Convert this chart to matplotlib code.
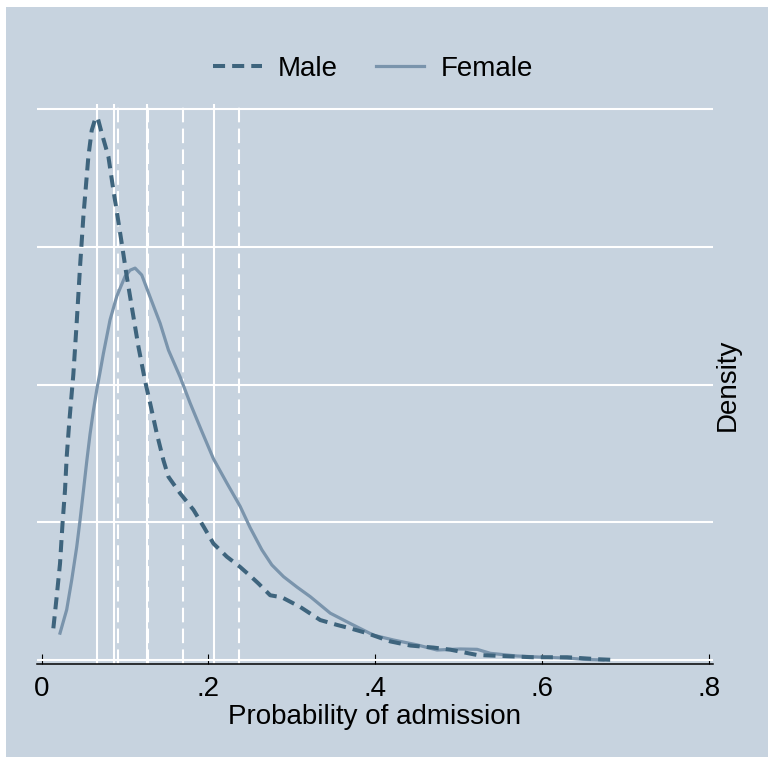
import matplotlib.pyplot as plt
from matplotlib.patches import Rectangle

plt.rcParams['font.family'] = ['Liberation Sans', 'DejaVu Sans']

# Kernel density estimates
male_x = [0.014, 0.018, 0.022, 0.025, 0.028, 0.030, 0.033, 0.036, 0.038, 0.042,
          0.046, 0.050, 0.056, 0.060, 0.064, 0.067, 0.072, 0.080, 0.086, 0.091,
          0.096, 0.102, 0.108, 0.116, 0.124, 0.130, 0.138, 0.146, 0.152, 0.166,
          0.182, 0.194, 0.206, 0.222, 0.238, 0.252, 0.260, 0.274, 0.288, 0.310,
          0.334, 0.354, 0.370, 0.390, 0.418, 0.442, 0.470, 0.490, 0.522, 0.553,
          0.589, 0.630, 0.669, 0.689]
male_y = [0.46, 0.92, 1.40, 1.98, 2.47, 2.95, 3.44, 3.87, 4.15, 4.90,
          5.71, 6.44, 7.31, 7.69, 7.85, 7.88, 7.65, 7.31, 6.82, 6.44,
          6.05, 5.57, 5.13, 4.55, 4.05, 3.73, 3.29, 2.90, 2.66, 2.42,
          2.18, 1.94, 1.69, 1.50, 1.35, 1.20, 1.11, 0.94, 0.91, 0.77,
          0.58, 0.51, 0.46, 0.39, 0.27, 0.21, 0.18, 0.15, 0.073, 0.058,
          0.04, 0.04, 0.01, 0.0]

female_x = [0.022, 0.030, 0.036, 0.042, 0.046, 0.050, 0.054, 0.058, 0.062, 0.066,
            0.070, 0.074, 0.082, 0.090, 0.100, 0.106, 0.112, 0.120, 0.130, 0.142,
            0.152, 0.166, 0.178, 0.192, 0.206, 0.222, 0.238, 0.250, 0.264, 0.276,
            0.290, 0.306, 0.322, 0.346, 0.370, 0.398, 0.422, 0.450, 0.474, 0.502,
            0.522, 0.538, 0.570, 0.602, 0.634, 0.649, 0.673]
female_y = [0.39, 0.73, 1.16, 1.64, 2.03, 2.45, 2.88, 3.28, 3.62, 3.92,
            4.18, 4.45, 4.94, 5.28, 5.57, 5.66, 5.69, 5.59, 5.27, 4.89,
            4.50, 4.11, 3.73, 3.32, 2.92, 2.57, 2.23, 1.92, 1.60, 1.38,
            1.21, 1.06, 0.92, 0.68, 0.53, 0.36, 0.29, 0.22, 0.145, 0.16,
            0.155, 0.097, 0.058, 0.04, 0.025, 0.01, 0.0]

# reference lines
solid_lines = [0.066, 0.087, 0.126, 0.207]
dashed_lines = [0.091, 0.127, 0.169, 0.236]

xticks = [0, 0.2, 0.4, 0.6, 0.8]
xtick_labels = ['0', '.2', '.4', '.6', '.8']
yticks = [0, 2, 4, 6, 8]

bg = '#C7D3DF'
male_color = '#3E647D'
female_color = '#7A94AC'

fig = plt.figure(figsize=(7.68, 7.58), dpi=100, facecolor='white')
fig.patches.append(Rectangle((6 / 768, 1 / 758), 1 - 6 / 768, 750 / 758,
                             transform=fig.transFigure, facecolor=bg,
                             edgecolor='none', zorder=-10))

ax = fig.add_axes([37 / 768, 94 / 758, 676 / 768, 560 / 758])
ax.set_facecolor(bg)

for x in solid_lines:
    ax.axvline(x, color='white', lw=1.5, zorder=1)
for x in dashed_lines:
    ax.axvline(x, color='white', lw=1.5, dashes=(7, 3), zorder=1)

ax.plot(male_x, male_y, color=male_color, lw=2.9, dashes=(3, 1.75),
        label='Male', zorder=3)
ax.plot(female_x, female_y, color=female_color, lw=2.3, label='Female', zorder=2)

ax.set_xlim(-0.0056, 0.8049)
ax.set_ylim(-0.058, 8.073)

ax.set_yticks(yticks)
ax.yaxis.grid(True, color='white', lw=1.5)
ax.set_axisbelow(True)
ax.tick_params(axis='y', left=False, right=False, labelleft=False)

ax.set_xticks(xticks)
ax.set_xticklabels(xtick_labels, fontsize=20)
ax.tick_params(axis='x', direction='in', length=7, width=0.8, pad=9)

for s in ['top', 'left', 'right']:
    ax.spines[s].set_visible(False)
ax.spines['bottom'].set_linewidth(1.1)

ax.set_xlabel('Probability of admission', fontsize=20, labelpad=1)
fig.text(728 / 768, 1 - 385 / 758, 'Density', rotation=90, fontsize=20,
         ha='center', va='center')

fig.legend(loc='center', bbox_to_anchor=(373 / 768, 1 - 69 / 758), ncol=2,
           frameon=False, fontsize=20, handlelength=1.75, handletextpad=0.58,
           columnspacing=1.37)

fig.savefig('out.png', dpi=100, facecolor='white')
